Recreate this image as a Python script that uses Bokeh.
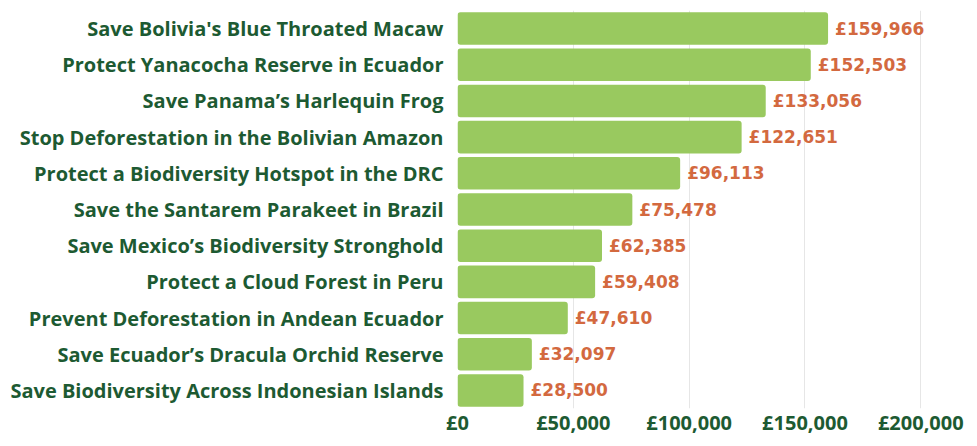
from bokeh.plotting import figure
from bokeh.models import ColumnDataSource, FixedTicker, CustomJSTickFormatter
from bokeh.core.properties import value
from bokeh.embed import file_html
from bokeh.resources import INLINE

projects = [
    "Save Bolivia's Blue Throated Macaw",
    "Protect Yanacocha Reserve in Ecuador",
    "Save Panama\u2019s Harlequin Frog",
    "Stop Deforestation in the Bolivian Amazon",
    "Protect a Biodiversity Hotspot in the DRC",
    "Save the Santarem Parakeet in Brazil",
    "Save Mexico\u2019s Biodiversity Stronghold",
    "Protect a Cloud Forest in Peru",
    "Prevent Deforestation in Andean Ecuador",
    "Save Ecuador\u2019s Dracula Orchid Reserve",
    "Save Biodiversity Across Indonesian Islands",
]
amounts = [159966, 152503, 133056, 122651, 96113, 75478, 62385, 59408, 47610, 32097, 28500]
x_ticks = [0, 50000, 100000, 150000, 200000]

labels = ["\u00a3{:,}".format(a) for a in amounts]
source = ColumnDataSource(dict(project=projects, amount=amounts, label=labels))

p = figure(
    width=969, height=438,
    y_range=list(reversed(projects)),
    x_range=(0, 218000),
    output_backend="svg", toolbar_location=None,
    min_border_left=457, min_border_right=7, min_border_top=10, min_border_bottom=0,
)
p.outline_line_color = None
p.y_range.range_padding = 0
p.y_range.factor_padding = 0

p.hbar(y="project", right="amount", height=0.9, left=0, source=source,
       fill_color="#99c95f", line_color=None, border_radius=3)

p.text(x="amount", y="project", text="label", source=source,
       x_offset=7, text_align="left", text_baseline="middle",
       text_font=value("DejaVu Sans"), text_font_style="bold",
       text_font_size="17px", text_color="#d3693f")

p.xaxis.ticker = FixedTicker(ticks=x_ticks)
p.xaxis.formatter = CustomJSTickFormatter(code="return '\u00a3' + tick.toLocaleString('en-GB');")
p.xaxis.axis_line_color = None
p.xaxis.major_tick_line_color = None
p.xaxis.minor_tick_line_color = None
p.xaxis.major_tick_out = 0
p.xaxis.major_tick_in = 0
p.xaxis.major_label_standoff = 0
p.xaxis.major_label_text_font = "Open Sans"
p.xaxis.major_label_text_font_style = "bold"
p.xaxis.major_label_text_font_size = "20px"
p.xaxis.major_label_text_color = "#1d5a32"

p.yaxis.axis_line_color = None
p.yaxis.major_tick_line_color = None
p.yaxis.minor_tick_line_color = None
p.yaxis.major_tick_out = 0
p.yaxis.major_tick_in = 0
p.yaxis.major_label_standoff = 14
p.yaxis.major_label_text_font = "Open Sans"
p.yaxis.major_label_text_font_style = "bold"
p.yaxis.major_label_text_font_size = "20px"
p.yaxis.major_label_text_color = "#1d5a32"

p.ygrid.grid_line_color = None
p.xgrid.grid_line_color = "#e6e6e6"
p.xgrid.grid_line_width = 1

open("out.html", "w").write(file_html(p, INLINE))
